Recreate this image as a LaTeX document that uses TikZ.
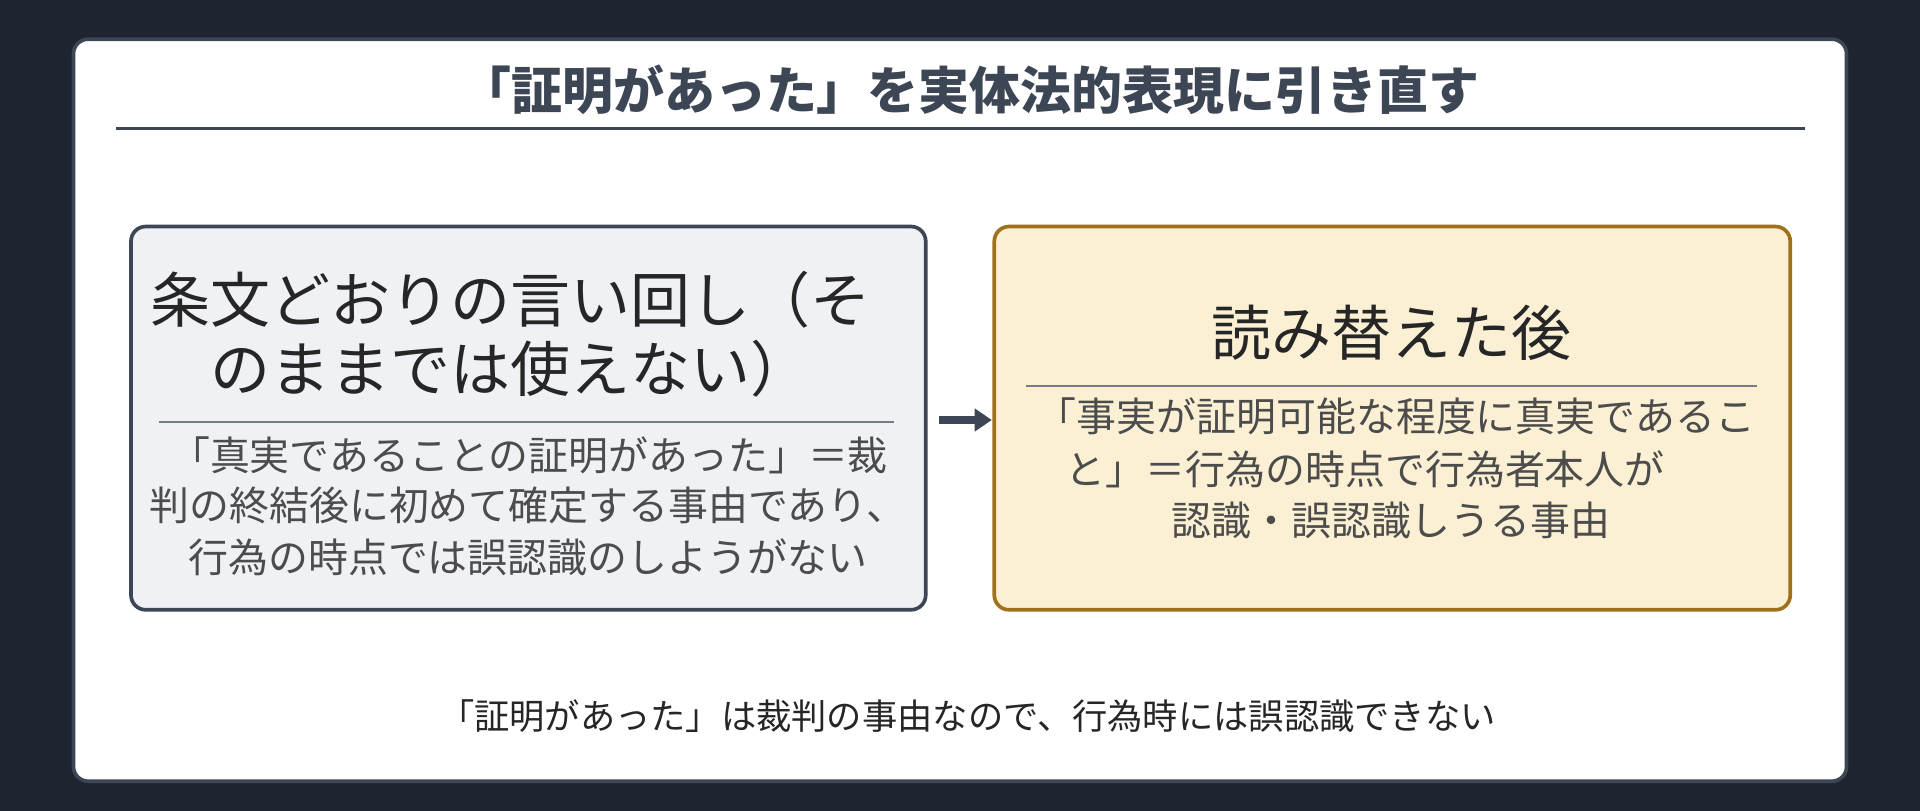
\documentclass[tikz,border=0pt]{standalone}
\usepackage{fontspec}
\setmainfont{Noto Sans CJK JP}
\usetikzlibrary{arrows.meta}
\definecolor{bg}{HTML}{1E2530}
\definecolor{bd}{HTML}{3D4654}
\definecolor{lfill}{HTML}{EFF1F5}
\definecolor{rfill}{HTML}{FCF0D4}
\definecolor{rbd}{HTML}{A0701A}
\begin{document}
\begin{tikzpicture}[x=0.5pt,y=-0.5pt,
  t/.style={inner sep=0pt,anchor=center},
  head/.style={t,font=\fontsize{24.5}{28}\selectfont,text=black!85},
  body/.style={t,font=\fontsize{16.3}{19}\selectfont,text=black!70},
  box/.style={line width=1.5pt,rounded corners=6pt}]
\useasboundingbox (0,0) rectangle (1568,662);
\fill[bg] (0,0) rectangle (1568,662);
\draw[box,bd,fill=white] (60,32) rectangle (1508,638);
\node[t,font=\bfseries\fontsize{20.8}{24}\selectfont,text=bd] (title) at (792,73) {「証明があった」を実体法的表現に引き直す};
\draw[bd,line width=1pt] (95,105) -- (1474,105);
% left
\draw[box,draw=bd,fill=lfill] (107,185) rectangle (756,498);
\node[head] (l1) at (417,245) {条文どおりの言い回し（そ};
\node[head] (l2) at (417,301) {のままでは使えない）};
\draw[bd!70,line width=0.8pt] (130,345) -- (730,345);
\node[body] (l3) at (432,372) {「真実であることの証明があった」＝裁};
\node[body] (l4) at (431,413) {判の終結後に初めて確定する事由であり、};
\node[body] (l5) at (431,455) {行為の時点では誤認識のしようがない};
% right
\draw[box,draw=rbd,fill=rfill] (812,185) rectangle (1462,498);
\node[head] (r1) at (1136,272) {読み替えた後};
\draw[bd!70,line width=0.8pt] (838,315) -- (1435,315);
\node[body] (r2) at (1140,340) {「事実が証明可能な程度に真実であるこ};
\node[body] (r3) at (1115,383) {と」＝行為の時点で行為者本人が};
\node[body] (r4) at (1136,425) {認識・誤認識しうる事由};
\coordinate (a1) at (767,343);
\coordinate (a2) at (810,343);
\draw[bd,line width=3pt,-{Triangle[length=7pt,width=9pt]}] (a1) -- (a2);
\node[t,font=\fontsize{14.4}{17}\selectfont,text=black!85] (foot) at (790,585) {「証明があった」は裁判の事由なので、行為時には誤認識できない};
\end{tikzpicture}
\end{document}
